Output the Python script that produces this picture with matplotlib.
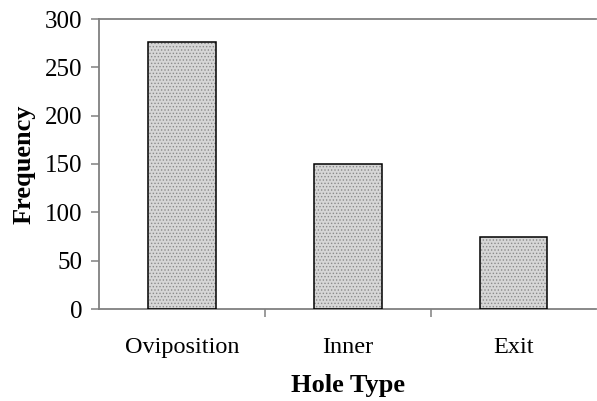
import matplotlib
matplotlib.use("Agg")
import matplotlib.pyplot as plt
import numpy as np

categories = ["Oviposition", "Inner", "Exit"]
frequency = [276, 150, 74]
yticks = [0, 50, 100, 150, 200, 250, 300]

plt.rcParams['font.family'] = ['Liberation Serif', 'DejaVu Serif']
plt.rcParams['hatch.linewidth'] = 0.6

fig = plt.figure(figsize=(5.97, 4.01), dpi=100)
ax = fig.add_axes([99/597, (401-309)/401, 1 - 99/597 - 0.001, 290/401])

x = np.arange(len(categories))
ax.bar(x, frequency, width=0.41, color='#d6d6d6', edgecolor='#8a8a8a',
       hatch='.....', linewidth=0, zorder=2)
ax.bar(x, frequency, width=0.41, fill=False, edgecolor='black',
       linewidth=1.1, zorder=3)

ax.set_xlim(-0.5, 2.5)
ax.set_ylim(0, 300)
ax.set_yticks(yticks)
ax.set_yticklabels([str(v) for v in yticks], fontsize=18)

ax.set_xticks([0.5, 1.5])
ax.set_xticklabels([])
ax.set_xticks(x, minor=True)
ax.set_xticklabels(categories, minor=True, fontsize=17.5)
ax.tick_params(axis='x', which='minor', length=0, pad=20)
ax.tick_params(axis='x', which='major', length=6, color='#808080', width=1.1)
ax.tick_params(axis='y', length=6, color='#808080', width=1.1, pad=6)

for s in ['left', 'bottom', 'top']:
    ax.spines[s].set_color('#808080')
    ax.spines[s].set_linewidth(1.3)
ax.spines['right'].set_visible(False)

ax.set_xlabel("Hole Type", fontsize=19, fontweight='bold', labelpad=12)
ax.set_ylabel("Frequency", fontsize=19, fontweight='bold', labelpad=7)

fig.savefig("out.png", dpi=100)
